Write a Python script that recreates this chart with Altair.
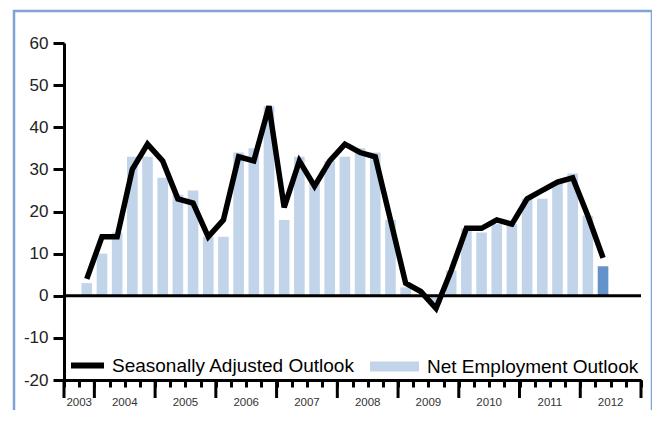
import altair as alt
import pandas as pd

# ---------------- data ----------------
quarters = (["2003 Q4"]
            + [f"{y} Q{q}" for y in range(2004, 2012) for q in range(1, 5)]
            + ["2012 Q1", "2012 Q2"])
seasonally_adjusted = [4, 14, 14, 30, 36, 32, 23, 22, 14, 18, 33, 32, 45, 21, 32, 26,
                       32, 36, 34, 33, 18, 3, 1, -3, 6, 16, 16, 18, 17, 23, 25, 27,
                       28, 19, 9]
net_employment = [3, 10, 15, 33, 33, 28, 24, 25, 14, 14, 34, 35, 45, 18, 33, 27,
                  32, 33, 35, 34, 18, 2, 0, -2, 6, 16, 15, 17, 17, 23, 23, 27,
                  29, 19, 7]
current_quarter = "2012 Q2"
year_labels = ["2003", "2004", "2005", "2006", "2007", "2008", "2009", "2010", "2011", "2012"]
y_ticks = [-20, -10, 0, 10, 20, 30, 40, 50, 60]

SA = "Seasonally Adjusted Outlook"
NEO = "Net Employment Outlook"


def slot(q):
    y, n = q.split(" Q")
    return (int(y) - 2003) * 4 + int(n) - 1 - 2   # 2003 Q3 -> slot 0


df = pd.DataFrame({
    "quarter": quarters,
    "sa": seasonally_adjusted,
    "neo": net_employment,
})
df["slot"] = [slot(q) for q in quarters]
df["sa_series"] = SA
df["bar_series"] = [("Current" if q == current_quarter else NEO) for q in quarters]

years_df = pd.DataFrame({"year": year_labels})
years_df["start"] = [max(0, (int(y) - 2003) * 4 - 2) for y in year_labels]
years_df["end"] = [(int(y) - 2003) * 4 + 2 for y in year_labels]

n_slots = int(years_df["end"].max())
major_df = pd.DataFrame({"b": [0] + [int(v) for v in years_df["end"]]})

W, H = 577, 337
FONT = "Liberation Sans"

xscale = alt.Scale(domain=[0, n_slots], nice=False, zero=False)
yscale = alt.Scale(domain=[-20, 60], nice=False, zero=False)

x_axis = alt.Axis(
    values=list(range(0, n_slots + 1)), labels=False, title=None, grid=False,
    domain=True, domainColor="black", domainWidth=3,
    ticks=True, tickColor="black", tickWidth=3, tickSize=7,
)
y_axis = alt.Axis(
    values=y_ticks, title=None, grid=False,
    domain=True, domainColor="black", domainWidth=3,
    tickColor="black", tickWidth=3, tickSize=11,
    labelFont=FONT, labelFontSize=17, labelColor="#222222", labelPadding=5,
    labelExpr="'' + datum.value",
)

base = alt.Chart(df)

bars = base.mark_bar().transform_calculate(
    x0="datum.slot + 0.15", x1="datum.slot + 0.85"
).encode(
    x=alt.X("x0:Q", scale=xscale, axis=x_axis),
    x2="x1:Q",
    y=alt.Y("neo:Q", scale=yscale, axis=y_axis),
    y2=alt.datum(0),
    fill=alt.Fill("bar_series:N",
                  scale=alt.Scale(domain=[NEO, "Current"], range=["#c2d4ea", "#6492cb"]),
                  legend=alt.Legend(values=[NEO], orient="none", legendX=306, legendY=299,
                                    title=None, symbolType="M-1,-0.2H1V0.2H-1Z",
                                    symbolSize=2401, symbolStrokeWidth=0, symbolOpacity=1,
                                    labelFont=FONT, labelFontSize=19, labelColor="black",
                                    labelOffset=8, labelLimit=400, padding=0)),
)

frame = alt.Chart(pd.DataFrame({"a": [0]})).mark_rect(
    fill="transparent", stroke="#7ea3d6", strokeWidth=2.5
).encode(
    x=alt.value(-50), x2=alt.value(588), y=alt.value(-32), y2=alt.value(420)
)

major_ticks = alt.Chart(major_df).mark_rule(color="black", strokeWidth=3).encode(
    x=alt.X("b:Q", scale=xscale, axis=x_axis),
    y=alt.value(H),
    y2=alt.value(H + 18),
)

zero_rule = alt.Chart(pd.DataFrame({"z": [0], "x_start": [0], "x_end": [n_slots]})).mark_rule(
    color="black", strokeWidth=3
).encode(
    x=alt.X("x_start:Q", scale=xscale, axis=x_axis),
    x2="x_end:Q",
    y=alt.Y("z:Q", scale=yscale, axis=y_axis),
)

line = base.mark_line(strokeWidth=5.5, strokeJoin="miter").transform_calculate(
    center="datum.slot + 0.5"
).encode(
    x=alt.X("center:Q", scale=xscale, axis=x_axis),
    y=alt.Y("sa:Q", scale=yscale, axis=y_axis),
    stroke=alt.Stroke("sa_series:N",
                      scale=alt.Scale(domain=[SA], range=["black"]),
                      legend=alt.Legend(orient="none", legendX=4, legendY=303,
                                        title=None, symbolType="stroke",
                                        symbolSize=1089, symbolStrokeWidth=6,
                                        labelFont=FONT, labelFontSize=19, labelColor="black",
                                        labelOffset=5, labelLimit=400, padding=0)),
)

year_text = alt.Chart(years_df).mark_text(
    font=FONT, fontSize=11.5, color="#333333", baseline="middle", align="center"
).transform_calculate(
    mid="(datum.start + datum.end) / 2"
).encode(
    x=alt.X("mid:Q", scale=xscale, axis=x_axis),
    y=alt.value(H + 23),
    text="year:N",
)

chart = alt.layer(bars, frame, major_ticks, zero_rule, line, year_text).resolve_scale(
    fill="independent", stroke="independent"
).properties(
    width=W, height=H, autosize="none",
    padding={"left": 56, "top": 35, "right": 11, "bottom": 30},
).configure(background="white").configure_view(stroke=None)

chart.save("out.html", embed_options={"renderer": "svg", "actions": False})
